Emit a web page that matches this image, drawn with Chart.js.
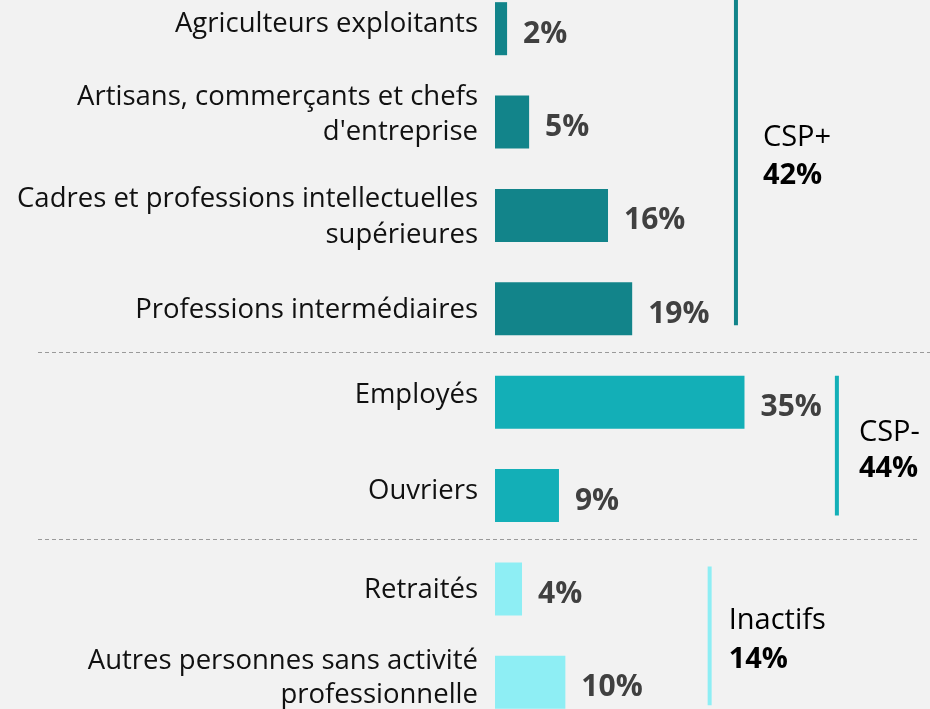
<!DOCTYPE html>
<html lang="fr">
<head>
<meta charset="utf-8">
<title>Répartition par catégorie socioprofessionnelle</title>
<script src="https://cdn.jsdelivr.net/npm/chart.js@4.4.1/dist/chart.umd.min.js"></script>
<style>
  html, body { margin: 0; padding: 0; background: #f2f2f2; overflow: hidden; }
  #wrap { position: absolute; left: 0; top: -18px; width: 930px; height: 747px; }
</style>
</head>
<body>
<div id="wrap"><canvas id="csp"></canvas></div>
<script>
// Categories (one entry per line of the label)
const categories = [
    ['Agriculteurs exploitants'],
    ['Artisans, commerçants et chefs', "d'entreprise"],
    ['Cadres et professions intellectuelles', 'supérieures'],
    ['Professions intermédiaires'],
    ['Employés'],
    ['Ouvriers'],
    ['Retraités'],
    ['Autres personnes sans activité', 'professionnelle']
];

// Share of each category (%)
const shares = [1.7, 4.8, 15.9, 19.3, 35.1, 9.0, 3.8, 9.9];

// Group of each category
const groupIndex = [0, 0, 0, 0, 1, 1, 2, 2];
const groupNames = ['CSP+', 'CSP-', 'Inactifs'];
const groupTotals = [42, 44, 14];
const groupColors = ['#12848a', '#13afb7', '#8eeef4'];

// Baseline of each label line, in pixels from the bar centre
const labelBaselines = [[3.5], [-17.5, 17.5], [-8.5, 27.5], [9], [0.5], [3.5], [9.5], [-13, 21]];

// Layout of the group brackets (pixel offsets from the bar centres)
const bracketLayout = [
    { x: 33.9, top: -60, bottom: 16.5, textDx: 27, nameDy: -22.5, totalDy: 15.5 },
    { x: 48.1, top: -26.5, bottom: 20, textDx: 22, nameDy: -8, totalDy: 28 },
    { x: 30.2, top: -22.5, bottom: 23, textDx: 19, nameDy: -6.5, totalDy: 32 }
];

const FONT = '"Open Sans", "Noto Sans", sans-serif';

// Draws category labels, value labels, separators and group brackets
const annotations = {
    id: 'annotations',
    afterDatasetsDraw(chart) {
        const ctx = chart.ctx;
        const xs = chart.scales.x;
        const ys = chart.scales.y;
        const meta = chart.getDatasetMeta(0);
        ctx.save();

        // category labels
        ctx.font = '27.5px ' + FONT;
        ctx.fillStyle = '#111111';
        ctx.textAlign = 'right';
        ctx.textBaseline = 'alphabetic';
        categories.forEach((lines, i) => {
            const cy = ys.getPixelForValue(i);
            const x = xs.getPixelForValue(0) - 17;
            lines.forEach((line, k) => {
                ctx.fillText(line, x, cy + labelBaselines[i][k]);
            });
        });

        // value labels
        ctx.font = 'bold 30px ' + FONT;
        ctx.fillStyle = '#404040';
        ctx.textAlign = 'left';
        meta.data.forEach((bar, i) => {
            ctx.fillText(Math.round(shares[i]) + '%', bar.x + 16, bar.y + 14);
        });

        // dashed separators between groups
        ctx.strokeStyle = '#9a9a9a';
        ctx.lineWidth = 1;
        ctx.setLineDash([4, 3]);
        const sepEnds = [930, 918];
        for (let i = 1; i < categories.length; i++) {
            if (groupIndex[i] !== groupIndex[i - 1]) {
                const y = Math.round((ys.getPixelForValue(i - 1) + ys.getPixelForValue(i)) / 2 - 3.5) + 0.5;
                ctx.beginPath();
                ctx.moveTo(38, y);
                ctx.lineTo(sepEnds[groupIndex[i] - 1], y);
                ctx.stroke();
            }
        }
        ctx.setLineDash([]);

        // group brackets and totals
        groupNames.forEach((name, g) => {
            const idx = groupIndex.map((v, i) => v === g ? i : -1).filter(i => i >= 0);
            const first = ys.getPixelForValue(idx[0]);
            const last = ys.getPixelForValue(idx[idx.length - 1]);
            const lay = bracketLayout[g];
            const x = xs.getPixelForValue(lay.x);
            ctx.strokeStyle = groupColors[g];
            ctx.lineWidth = 4;
            ctx.beginPath();
            ctx.moveTo(x, first + lay.top);
            ctx.lineTo(x, last + lay.bottom);
            ctx.stroke();

            const mid = (first + last) / 2;
            ctx.fillStyle = '#000000';
            ctx.font = '29px ' + FONT;
            ctx.fillText(name, x + lay.textDx, mid + lay.nameDy);
            ctx.font = 'bold 29px ' + FONT;
            ctx.fillText(groupTotals[g] + '%', x + lay.textDx, mid + lay.totalDy);
        });

        ctx.restore();
    }
};

function buildChart() {
    const ctx = document.getElementById('csp').getContext('2d');
    return new Chart(ctx, {
        type: 'bar',
        data: {
            labels: categories.map(l => l.join(' ')),
            datasets: [{
                data: shares,
                backgroundColor: groupIndex.map(g => groupColors[g]),
                borderWidth: 0,
                categoryPercentage: 1,
                barPercentage: 0.568
            }]
        },
        options: {
            indexAxis: 'y',
            responsive: true,
            maintainAspectRatio: false,
            animation: false,
            layout: { padding: { left: 495, right: 0, top: 0, bottom: 0 } },
            scales: {
                x: { display: false, min: 0, max: 61.2 },
                y: { display: false }
            },
            plugins: {
                legend: { display: false },
                tooltip: { enabled: false }
            }
        },
        plugins: [annotations]
    });
}

window.addEventListener('load', buildChart);
</script>
</body>
</html>
